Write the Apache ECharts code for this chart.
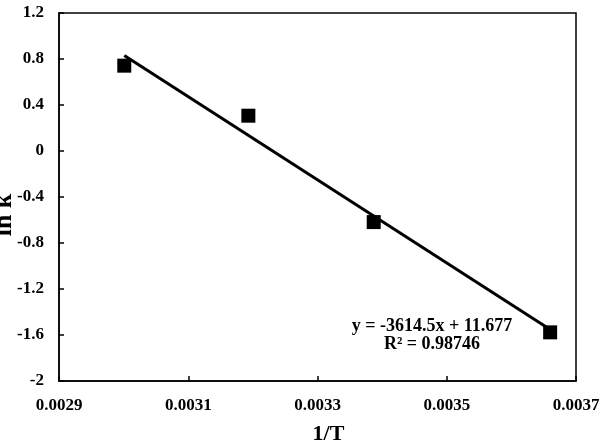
<!DOCTYPE html>
<html>
<head>
<meta charset="utf-8">
<script src="https://cdn.jsdelivr.net/npm/echarts@6/dist/echarts.min.js"></script>
<style>
html,body{margin:0;padding:0;background:#fff;}
#chart{width:600px;height:447px;}
</style>
</head>
<body>
<div id="chart"></div>
<script>
// Data
var invT = [0.003001, 0.003193, 0.003387, 0.00366];
var lnK = [0.742, 0.307, -0.618, -1.577];
var trendX = [0.003001, 0.00366];
var trendY = [0.830, -1.552];
var xTicks = ['0.0029', '0.0031', '0.0033', '0.0035', '0.0037'];
var yTicks = ['-2', '-1.6', '-1.2', '-0.8', '-0.4', '0', '0.4', '0.8', '1.2'];
var eqLine1 = 'y = -3614.5x + 11.677';
var eqLine2 = 'R\u00b2 = 0.98746';
var xTitle = '1/T';
var yTitle = 'ln k';

var FONT = '"Liberation Serif", "Times New Roman", serif';

var pts = invT.map(function (x, i) { return [x, lnK[i]]; });
var trend = trendX.map(function (x, i) { return [x, trendY[i]]; });

var chart = echarts.init(document.getElementById('chart'), null, { renderer: 'canvas' });
var option = {
  animation: false,
  backgroundColor: '#fff',
  grid: {
    left: 59, right: 24, top: 13, bottom: 66,
    containLabel: false,
    outerBoundsMode: 'none',
    show: true, borderColor: '#000', borderWidth: 1.5, backgroundColor: 'transparent'
  },
  xAxis: {
    type: 'value',
    min: 0.0029, max: 0.0037, interval: 0.0002,
    name: xTitle,
    nameLocation: 'middle',
    nameGap: 42,
    nameMoveOverlap: false,
    nameTextStyle: { fontFamily: FONT, fontWeight: 'bold', fontSize: 22, color: '#000', padding: [0, 0, 0, 22] },
    axisLine: { show: true, onZero: false, lineStyle: { color: '#000', width: 1.5 } },
    axisTick: { show: true, inside: true, length: 5, lineStyle: { color: '#000', width: 1.5 } },
    axisLabel: {
      margin: 16, fontFamily: FONT, fontWeight: 'bold', fontSize: 17, color: '#000',
      formatter: function (v) {
        var idx = Math.round((v - 0.0029) / 0.0002);
        return xTicks[idx] !== undefined ? xTicks[idx] : '';
      }
    },
    splitLine: { show: false }
  },
  yAxis: {
    type: 'value',
    min: -2, max: 1.2, interval: 0.4,
    name: yTitle,
    nameLocation: 'middle',
    nameGap: 42,
    nameRotate: 90,
    nameMoveOverlap: false,
    nameTextStyle: { fontFamily: FONT, fontWeight: 'bold', fontSize: 26, color: '#000', padding: [0, 36, 0, 0] },
    axisLine: { show: true, onZero: false, lineStyle: { color: '#000', width: 1.5 } },
    axisTick: { show: true, inside: true, length: 5, lineStyle: { color: '#000', width: 1.5 } },
    axisLabel: {
      margin: 15, fontFamily: FONT, fontWeight: 'bold', fontSize: 17, color: '#000',
      formatter: function (v) {
        var idx = Math.round((v + 2) / 0.4);
        return yTicks[idx] !== undefined ? yTicks[idx] : '';
      }
    },
    splitLine: { show: false }
  },
  series: [
    {
      type: 'line',
      data: trend,
      showSymbol: false,
      symbol: 'none',
      lineStyle: { color: '#000', width: 3 },
      z: 2,
      silent: true
    },
    {
      type: 'scatter',
      data: pts,
      symbol: 'rect',
      symbolSize: 14,
      itemStyle: { color: '#000', opacity: 1 },
      z: 3
    }
  ],
  graphic: [
    {
      type: 'text',
      x: 432, y: 326,
      style: { text: eqLine1, fill: '#000', font: 'bold 18px ' + FONT, textAlign: 'center', textVerticalAlign: 'middle' },
      z: 10
    },
    {
      type: 'text',
      x: 432, y: 344,
      style: { text: eqLine2, fill: '#000', font: 'bold 18px ' + FONT, textAlign: 'center', textVerticalAlign: 'middle' },
      z: 10
    }
  ]
};
chart.setOption(option);
</script>
</body>
</html>
